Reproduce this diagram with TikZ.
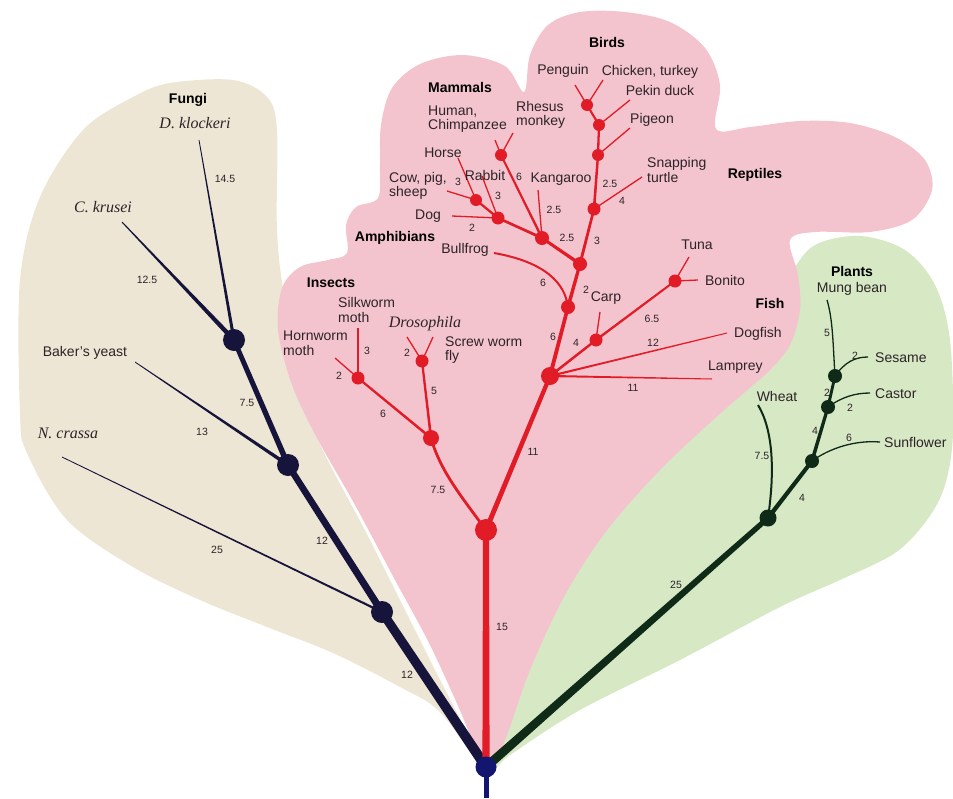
\documentclass[tikz,border=0pt]{standalone}
\usepackage{fontspec}
\setmainfont{Liberation Sans}
\newfontfamily\serifit{Liberation Serif}
\usetikzlibrary{calc}
\pgfdeclarelayer{bg}
\pgfdeclarelayer{lines}
\pgfsetlayers{bg,lines,main}
\definecolor{tanbg}{RGB}{238,230,213}
\definecolor{pinkbg}{RGB}{244,196,206}
\definecolor{greenbg}{RGB}{214,232,196}
\definecolor{redc}{RGB}{225,28,38}
\definecolor{navy}{RGB}{22,20,58}
\definecolor{rootc}{RGB}{18,22,110}
\definecolor{plantc}{RGB}{16,42,24}
\definecolor{txt}{RGB}{45,35,40}
\newcommand{\taper}[5]{\fill[#1] ($(#2)!#4!90:(#3)$) -- ($(#3)!#5!-90:(#2)$) -- ($(#3)!#5!90:(#2)$) -- ($(#2)!#4!-90:(#3)$) -- cycle;}
\tikzset{
  lbl/.style={font=\fontsize{14}{14.5}\selectfont, text=txt, inner sep=0pt, align=left},
  grp/.style={font=\fontsize{14}{16}\selectfont\bfseries, text=black, inner sep=0pt},
  num/.style={font=\fontsize{10.5}{12}\selectfont, text=txt, inner sep=0pt},
  spc/.style={font=\serifit\itshape\fontsize{16}{18}\selectfont, text=txt, inner sep=0pt},
  rdot/.style={circle, fill=redc, inner sep=0pt, minimum size=#1},
  fdot/.style={circle, fill=navy, inner sep=0pt, minimum size=#1},
  pdot/.style={circle, fill=plantc, inner sep=0pt, minimum size=#1},
  redleaf/.style={draw=redc, line width=1.3pt},
  plantleaf/.style={draw=plantc, line width=1.3pt},
}
\begin{document}
\begin{tikzpicture}[x=1pt,y=-1pt]
\useasboundingbox (0,0) rectangle (953,798);
% ---------- backgrounds ----------
\begin{pgfonlayer}{bg}
\fill[tanbg] plot[smooth cycle, tension=0.55] coordinates {
 (486,772) (440,712) (400,687) (333,653) (267,627) (200,600) (133,567) (67,520)
 (27,453) (20,413) (20,280) (40,197) (83,130) (133,97) (170,83) (233,80) (267,97)
 (277,130) (277,230) (285,300) (310,420) (370,540) (430,660)};
\fill[greenbg] plot[smooth cycle, tension=0.55] coordinates {
 (490,770) (500,700) (540,600) (610,500) (700,410) (760,330) (790,275) (815,245)
 (860,236) (905,250) (935,285) (950,340) (953,433) (945,485) (927,520) (895,553)
 (840,580) (780,607) (680,660) (580,710) (510,755)};
\fill[pinkbg] plot[smooth cycle, tension=0.55] coordinates {
 (486,772) (462,715) (430,645) (395,580) (355,505) (318,440) (292,385) (278,330)
 (282,288) (300,267) (328,260) (347,253) (346,225) (356,207) (378,198) (380,165)
 (381,125) (392,88) (420,64) (463,55) (505,66) (524,92) (530,55) (548,25)
 (580,12) (625,12) (670,22) (705,48) (720,85) (716,129) (750,127) (800,121)
 (850,123) (895,137) (925,160) (932,190) (912,220) (870,232) (815,232) (790,240)
 (798,275) (800,310) (790,345) (770,370) (745,392) (713,420) (660,470) (607,530)
 (565,595) (530,670) (505,740)};
\end{pgfonlayer}
% ---------- dots ----------
\node[circle, fill=rootc, inner sep=0pt, minimum size=21pt] (root) at (486,767) {};
\coordinate (stem) at (486,798);
\node[fdot=22] (f1) at (382,612) {};
\node[fdot=22] (f2) at (288,465) {};
\node[fdot=22] (f3) at (234,340) {};
\coordinate (dk) at (199,140);
\coordinate (ck) at (122,222);
\coordinate (by) at (135,362);
\coordinate (nc) at (62,457);
\node[rdot=22] (r1) at (486,530) {};
\node[rdot=18] (fi) at (550,376) {};
\node[rdot=16] (i1) at (431,438) {};
\node[rdot=13] (hm) at (358,378) {};
\node[rdot=13] (dr) at (422,361) {};
\node[rdot=14] (am) at (568,307) {};
\node[rdot=14] (m0) at (580,264) {};
\node[rdot=13] (cp) at (596,340) {};
\node[rdot=13] (bn) at (675,281) {};
\node[rdot=14] (mm) at (542,238) {};
\node[rdot=13] (dg) at (498,218) {};
\node[rdot=12] (cw) at (476,200) {};
\node[rdot=12] (pr) at (501,155) {};
\node[rdot=13] (rp) at (594,209) {};
\node[rdot=12] (b3) at (598,155) {};
\node[rdot=12] (b2) at (599,125) {};
\node[rdot=12] (b1) at (587,105) {};
\coordinate (silk) at (358,328);
\coordinate (horn) at (335,358);
\coordinate (droso) at (407,337);
\coordinate (screw) at (433,337);
\coordinate (tuna) at (689,257);
\coordinate (bonito) at (698,280);
\coordinate (carp) at (600,312);
\coordinate (dogfish) at (727,333);
\coordinate (lamprey) at (712,379);
\coordinate (bullfrog) at (494,253);
\coordinate (kang) at (538,190);
\coordinate (human) at (495,140);
\coordinate (rhesus) at (513,133);
\coordinate (horse) at (458,158);
\coordinate (cow) at (447,191);
\coordinate (rabbit) at (482,176);
\coordinate (dog) at (452,216);
\coordinate (turtle) at (642,177);
\coordinate (pigeon) at (630,128);
\coordinate (pekin) at (630,100);
\coordinate (penguin) at (575,85);
\coordinate (chicken) at (603,80);
\node[pdot=17] (p1) at (768,518) {};
\node[pdot=14] (p2) at (812,461) {};
\node[pdot=14] (p3) at (828,407) {};
\node[pdot=14] (p4) at (835,376) {};
\coordinate (mung) at (827,300);
\coordinate (sesame) at (868,357);
\coordinate (castor) at (870,393);
\coordinate (sunfl) at (880,442);
\coordinate (wheat) at (758,405);
% ---------- connectors ----------
\begin{pgfonlayer}{lines}
\draw[rootc, line width=5pt] (root.center) -- (stem);
% fungi
\taper{navy}{root.center}{f1.center}{5pt}{4.5pt}
\taper{navy}{f1.center}{f2.center}{3.6pt}{3.2pt}
\taper{navy}{f2.center}{f3.center}{2.8pt}{2.4pt}
\taper{navy}{f3.center}{ck}{2.4pt}{0.5pt}
\taper{navy}{f3.center}{dk}{1.6pt}{0.4pt}
\taper{navy}{f2.center}{by}{1.8pt}{0.4pt}
\taper{navy}{f1.center}{nc}{1.1pt}{0.4pt}
% animals
\taper{redc}{root.center}{r1.center}{3.6pt}{3pt}
\taper{redc}{r1.center}{fi.center}{2.5pt}{2.1pt}
\taper{redc}{fi.center}{am.center}{2pt}{1.8pt}
\taper{redc}{am.center}{m0.center}{1.8pt}{1.6pt}
\taper{redc}{m0.center}{rp.center}{1.5pt}{1.3pt}
\taper{redc}{rp.center}{b3.center}{1.3pt}{1.2pt}
\taper{redc}{b3.center}{b2.center}{1.2pt}{1.1pt}
\taper{redc}{b2.center}{b1.center}{1.1pt}{1pt}
\taper{redc}{m0.center}{mm.center}{1.7pt}{1.5pt}
\taper{redc}{mm.center}{dg.center}{1.4pt}{1.3pt}
\taper{redc}{dg.center}{cw.center}{1.2pt}{1.1pt}
\taper{redc}{mm.center}{pr.center}{1.2pt}{1pt}
\taper{redc}{fi.center}{cp.center}{1.3pt}{1.2pt}
\taper{redc}{cp.center}{bn.center}{1.2pt}{1pt}
\taper{redc}{fi.center}{dogfish}{1.1pt}{0.5pt}
\taper{redc}{fi.center}{lamprey}{1.1pt}{0.5pt}
\taper{redc}{i1.center}{hm.center}{1.3pt}{1.1pt}
\taper{redc}{i1.center}{dr.center}{1.3pt}{1.1pt}
\draw[redc, line width=2.8pt] (r1.center) .. controls (460,495) and (440,470) .. (i1.center);
\draw[redc, line width=2pt] (am.center) .. controls (565,283) and (545,262) .. (bullfrog);
\draw[redleaf] (hm.center) -- (silk);
\draw[redleaf] (hm.center) -- (horn);
\draw[redleaf] (dr.center) -- (droso);
\draw[redleaf] (dr.center) -- (screw);
\draw[redleaf] (bn.center) -- (tuna);
\draw[redleaf] (bn.center) -- (bonito);
\draw[redleaf] (cp.center) -- (carp);
\draw[redleaf] (mm.center) -- (kang);
\draw[redleaf] (pr.center) -- (human);
\draw[redleaf] (pr.center) -- (rhesus);
\draw[redleaf] (cw.center) -- (horse);
\draw[redleaf] (cw.center) -- (cow);
\draw[redleaf] (dg.center) -- (rabbit);
\draw[redleaf] (dg.center) -- (dog);
\draw[redleaf] (rp.center) -- (turtle);
\draw[redleaf] (b3.center) -- (pigeon);
\draw[redleaf] (b2.center) -- (pekin);
\draw[redleaf] (b1.center) -- (penguin);
\draw[redleaf] (b1.center) -- (chicken);
% plants
\taper{plantc}{root.center}{p1.center}{4.5pt}{2.6pt}
\taper{plantc}{p1.center}{p2.center}{2.2pt}{2pt}
\taper{plantc}{p2.center}{p3.center}{1.8pt}{1.6pt}
\taper{plantc}{p3.center}{p4.center}{1.5pt}{1.4pt}
\draw[plantc, line width=2pt] (p1.center) .. controls (775,470) and (773,430) .. (wheat);
\draw[plantleaf] (p4.center) .. controls (833,345) and (833,320) .. (mung);
\draw[plantleaf] (p4.center) .. controls (845,362) and (855,357) .. (sesame);
\draw[plantleaf] (p3.center) .. controls (842,397) and (855,393) .. (castor);
\draw[plantleaf] (p2.center) .. controls (830,448) and (855,440) .. (sunfl);
\end{pgfonlayer}
% ---------- group labels ----------
\node[grp] (gfungi) at (188,100) {Fungi};
\node[grp] (gbirds) at (607,42) {Birds};
\node[grp] (gmamm) at (460,87) {Mammals};
\node[grp] (grept) at (755,175) {Reptiles};
\node[grp] (gamph) at (395,238) {Amphibians};
\node[grp] (ginse) at (331,283) {Insects};
\node[grp] (gfish) at (770,303) {Fish};
\node[grp] (gplant) at (852,271) {Plants};
% ---------- species labels ----------
\node[spc] (tdk) at (195,123) {D. klockeri};
\node[spc] (tck) at (103,207) {C. krusei};
\node[spc] (tnc) at (68,433) {N. crassa};
\node[spc] (tdr) at (425,324) {Drosophila};
\node[lbl] (tby) at (85,353) {Baker's yeast};
\node[lbl] (tpeng) at (563,71) {Penguin};
\node[lbl] (tchick) at (650,72) {Chicken, turkey};
\node[lbl] (tpekin) at (660,90) {Pekin duck};
\node[lbl] (tpig) at (652,120) {Pigeon};
\node[lbl, anchor=west] (tturt) at (647,170) {Snapping\\turtle};
\node[lbl, anchor=west] (thum) at (428,119) {Human,\\Chimpanzee};
\node[lbl, anchor=west] (trhe) at (516,115) {Rhesus\\monkey};
\node[lbl] (thorse) at (443,153) {Horse};
\node[lbl, anchor=west] (tcow) at (389,186) {Cow, pig,\\sheep};
\node[lbl] (trab) at (485,175) {Rabbit};
\node[lbl] (tkang) at (561,179) {Kangaroo};
\node[lbl] (tdog) at (428,216) {Dog};
\node[lbl] (tbull) at (465,250) {Bullfrog};
\node[lbl] (ttuna) at (697,245) {Tuna};
\node[lbl] (tbon) at (725,280) {Bonito};
\node[lbl] (tcarp) at (606,298) {Carp};
\node[lbl, anchor=west] (tdogf) at (734,334) {Dogfish};
\node[lbl, anchor=west] (tlamp) at (708,367) {Lamprey};
\node[lbl, anchor=west] (tsilk) at (338,310) {Silkworm\\moth};
\node[lbl, anchor=west] (thorn) at (283,343) {Hornworm\\moth};
\node[lbl, anchor=west] (tscrew) at (445,350) {Screw worm\\fly};
\node[lbl] (twheat) at (777,396) {Wheat};
\node[lbl] (tmung) at (852,289) {Mung bean};
\node[lbl, anchor=west] (tses) at (875,358) {Sesame};
\node[lbl, anchor=west] (tcas) at (875,394) {Castor};
\node[lbl, anchor=west] (tsun) at (884,442) {Sunflower};
% ---------- branch lengths ----------
\node[num] (n1) at (225,179) {14.5};
\node[num] (n2) at (147,280) {12.5};
\node[num] (n3) at (247,403) {7.5};
\node[num] (n4) at (202,432) {13};
\node[num] (n5) at (217,550) {25};
\node[num] (n6) at (322,541) {12};
\node[num] (n7) at (407,675) {12};
\node[num] (n8) at (502,627) {15};
\node[num] (n9) at (533,452) {11};
\node[num] (n10) at (438,490) {7.5};
\node[num] (n11) at (383,414) {6};
\node[num] (n12) at (434,391) {5};
\node[num] (n13) at (339,376) {2};
\node[num] (n14) at (367,351) {3};
\node[num] (n15) at (407,353) {2};
\node[num] (n16) at (633,388) {11};
\node[num] (n17) at (653,343) {12};
\node[num] (n18) at (652,319) {6.5};
\node[num] (n19) at (576,343) {4};
\node[num] (n20) at (553,337) {6};
\node[num] (n21) at (586,290) {2};
\node[num] (n22) at (543,283) {6};
\node[num] (n23) at (567,238) {2.5};
\node[num] (n24) at (597,241) {3};
\node[num] (n25) at (554,210) {2.5};
\node[num] (n26) at (519,177) {6};
\node[num] (n27) at (498,196) {3};
\node[num] (n28) at (458,182) {3};
\node[num] (n29) at (472,228) {2};
\node[num] (n30) at (622,201) {4};
\node[num] (n31) at (610,184) {2.5};
\node[num] (n32) at (676,585) {25};
\node[num] (n33) at (762,456) {7.5};
\node[num] (n34) at (802,498) {4};
\node[num] (n35) at (849,438) {6};
\node[num] (n36) at (815,431) {4};
\node[num] (n37) at (850,408) {2};
\node[num] (n38) at (827,393) {2};
\node[num] (n39) at (855,356) {2};
\node[num] (n40) at (827,333) {5};
\end{tikzpicture}
\end{document}
